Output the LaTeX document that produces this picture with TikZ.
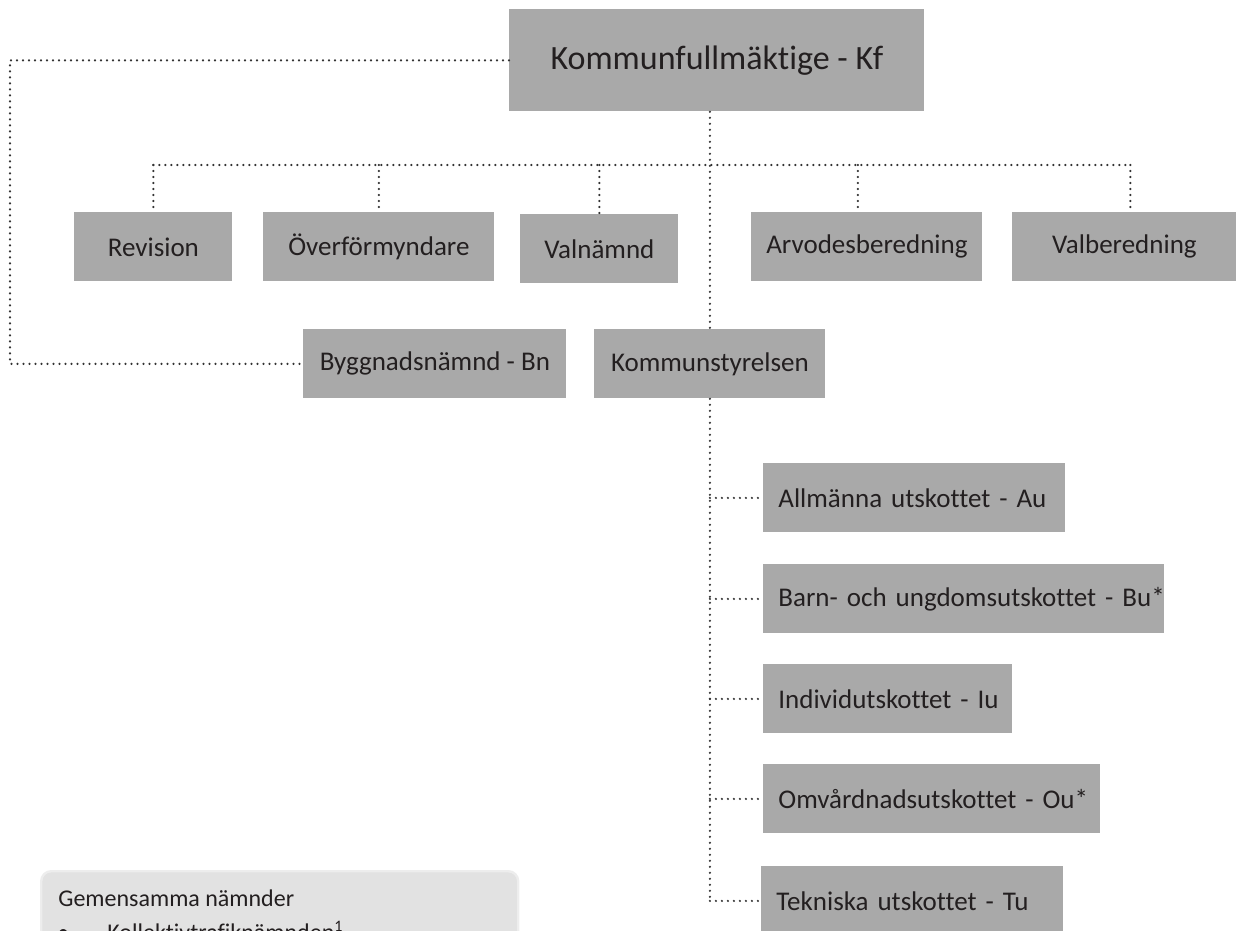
\documentclass[tikz,border=0pt]{standalone}
\usepackage{fontspec}
\setmainfont{Carlito}[Ligatures=NoCommon]
\usepackage{xcolor}
\usepackage{tikz}
\usetikzlibrary{positioning}
\definecolor{boxgray}{HTML}{A9A9A9}
\definecolor{ink}{HTML}{231F20}
\definecolor{panelgray}{HTML}{E2E2E2}

\begin{document}
\begin{tikzpicture}[
  x=0.5pt, y=-0.5pt,
  box/.style={fill=boxgray, text=ink, inner sep=0pt, anchor=north west, minimum height=34.5pt, minimum width=#1, align=center, font=\fontsize{13.5}{15}\selectfont},
  sub/.style={fill=boxgray, text=ink, inner xsep=7.5pt, inner ysep=0pt, anchor=north west, minimum height=34.5pt, text width=#1, align=left, font=\fontsize{13.5}{15}\selectfont},
  panel/.style={fill=panelgray, draw=white!93!black, line width=1.2pt, rounded corners=5pt, anchor=north west, inner sep=0pt},
  note/.style={text=ink, inner sep=0pt, anchor=base west, font=\fontsize{12}{14}\selectfont},
  link/.style={draw=black!80, line width=1.2pt, line cap=round, dash pattern=on 0pt off 3pt}]
  \useasboundingbox (0,0) rectangle (1238,931);
  \clip (0,0) rectangle (1238,931);
  \node[box=207.5pt, minimum height=51pt, font=\fontsize{17}{20}\selectfont] (kf) at (509,9) {Kommunfullmäktige - Kf};
  \node[box=79pt] (rev) at (74,212) {Revision};
  \node[box=115.5pt] (ovf) at (263,212) {Överförmyndare};
  \node[box=79pt] (val) at (520,214) {Valnämnd};
  \node[box=115.5pt] (arv) at (751,212) {Arvodesberedning};
  \node[box=112pt] (valb) at (1012,212) {Valberedning};
  \node[box=131.5pt] (bn) at (303,329) {Byggnadsnämnd - Bn};
  \node[box=115.5pt] (ks) at (594,329) {Kommunstyrelsen};
  \node[sub=136pt] (au) at (763,463) {\mbox{Allmänna utskottet - Au}};
  \node[sub=185.5pt] (bu) at (763,564) {\mbox{Barn- och ungdomsutskottet - Bu*}};
  \node[sub=109.5pt] (iu) at (763,664) {\mbox{Individutskottet - Iu}};
  \node[sub=153.5pt] (ou) at (763,764) {\mbox{Omvårdnadsutskottet - Ou*}};
  \node[sub=136pt] (tu) at (761,866) {\mbox{Tekniska utskottet - Tu}};
  \node[panel, minimum width=238.5pt, minimum height=70pt] (gem) at (40,870) {};
  \node[note] (gemtitle) at (58,906) {Gemensamma nämnder};
  \node[note] (gembullet) at (57,940) {\textbullet};
  \node[note] (gemitem) at (107,940) {Kollektivtrafiknämnden\textsuperscript{1}};
  \coordinate (lft) at (10,0);
  \coordinate (bus) at (0,165);
  \draw[link] (kf.west) -- (kf.west -| lft) |- (bn.west);
  \draw[link] (kf.south -| ks.north) -- (ks.north);
  \draw[link] (rev.north |- bus) -- ([xshift=3pt]valb.north |- bus);
  \foreach \n/\s in {rev/0,ovf/0,val/0,arv/-4.5,valb/3} \draw[link] ([xshift=\s pt]\n.north |- bus) -- ([xshift=\s pt]\n.north);
  \draw[link] (ks.south) -- (ks.south |- tu.west);
  \foreach \n in {au,bu,iu,ou,tu} \draw[link] (ks.south |- \n.west) -- (\n.west);
\end{tikzpicture}
\end{document}
